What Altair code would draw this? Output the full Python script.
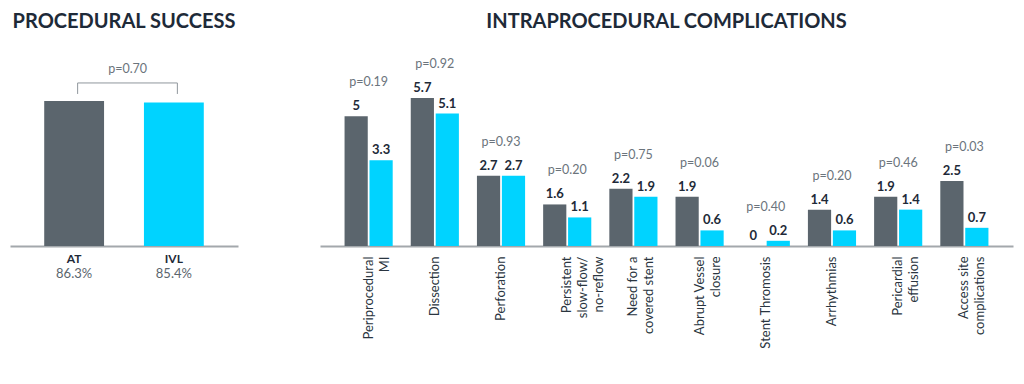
import altair as alt
import pandas as pd

# ---- data ----
groups = ["AT", "IVL"]
success_rates = [86.3, 85.4]
success_p = "p=0.70"

categories = [
    "Periprocedural|MI", "Dissection", "Perforation", "Persistent|slow-flow/|no-reflow",
    "Need for a|covered stent", "Abrupt Vessel|closure", "Stent Thromosis",
    "Arrhythmias", "Pericardial|effusion", "Access site|complications",
]
at_rates = [5, 5.7, 2.7, 1.6, 2.2, 1.9, 0, 1.4, 1.9, 2.5]
ivl_rates = [3.3, 5.1, 2.7, 1.1, 1.9, 0.6, 0.2, 0.6, 1.4, 0.7]
p_values = ["p=0.19", "p=0.92", "p=0.93", "p=0.20", "p=0.75",
            "p=0.06", "p=0.40", "p=0.20", "p=0.46", "p=0.03"]

# ---- styles ----
FONT = "Lato"
DARK = "#1e2a38"
BAR_COLORS = ["#5b656d", "#00d3ff"]
P_COLOR = "#6b747c"
AXIS_COLOR = "#a3a8ac"

color_scale = alt.Scale(domain=groups, range=BAR_COLORS)

# ---- left panel ----
sdf = pd.DataFrame({"group": groups, "value": success_rates})
smax = max(success_rates)

xl = alt.X("group:N", sort=groups,
           scale=alt.Scale(paddingInner=0.4, paddingOuter=0.343),
           axis=alt.Axis(title=None, labelAngle=0, ticks=False, labelPadding=7,
                         labelFontWeight="bold", labelFontSize=12, labelColor=DARK,
                         labelFont=FONT, domainColor=AXIS_COLOR, domainWidth=2))
yl = alt.Y("value:Q", scale=alt.Scale(domain=[0, 119], nice=False), axis=None)

lbase = alt.Chart(sdf)
lfirst = lbase.transform_filter(alt.datum.group == groups[0])
lbars = lbase.mark_bar().encode(
    x=xl, y=yl,
    color=alt.Color("group:N", scale=color_scale, legend=None))
lpct = lbase.transform_calculate(
    lab="format(datum.value, '.1f') + '%'"
).mark_text(dy=28, baseline="middle", fontSize=13, font=FONT, color="#5b656d").encode(
    x=xl, y=alt.datum(0), text="lab:N")
bracket_h = lfirst.mark_rule(color="#8f969c", strokeWidth=1, xOffset=3.5, x2Offset=3.5,
                             yOffset=-18).encode(
    x=alt.datum("AT"), x2=alt.datum("IVL"), y=alt.datum(smax))
bracket_v = lbase.mark_rule(color="#8f969c", strokeWidth=1, xOffset=3.5,
                            yOffset=-18, y2Offset=-7).encode(
    x=xl, y=alt.datum(smax), y2=alt.datum(smax))
lp = lfirst.mark_text(dy=-32, dx=53.5, baseline="middle", fontSize=12.5, font=FONT,
                      color=P_COLOR).encode(
    x=alt.datum("AT"), y=alt.datum(smax), text=alt.value(success_p))

left = alt.layer(lbars, lpct, bracket_h, bracket_v, lp).properties(
    width=228, height=200,
    title=alt.TitleParams("PROCEDURAL SUCCESS", anchor="middle"))

# ---- right panel ----
rows = []
for i, c in enumerate(categories):
    for g, v in zip(groups, [at_rates[i], ivl_rates[i]]):
        rows.append({"cat": c, "group": g, "value": v})
cdf = pd.DataFrame(rows)
pdf = pd.DataFrame({"cat": categories,
                    "top": [max(a, b) for a, b in zip(at_rates, ivl_rates)],
                    "p": p_values})

xr = alt.X("cat:N", sort=categories,
           scale=alt.Scale(paddingInner=0.2727, paddingOuter=0.371),
           axis=alt.Axis(title=None, labelAngle=-90, labelAlign="right",
                         labelBaseline="middle", ticks=False, labelPadding=10,
                         labelExpr="split(datum.label, '|')", labelLineHeight=16,
                         labelFontSize=13, labelColor="#2a3540", labelFont=FONT,
                         domainColor=AXIS_COLOR, domainWidth=2))
yr = alt.Y("value:Q", scale=alt.Scale(domain=[0, 7.7], nice=False), axis=None)
xo = alt.XOffset("group:N", sort=groups, scale=alt.Scale(paddingInner=0.07))

rbars = alt.Chart(cdf).mark_bar().encode(
    x=xr, xOffset=xo, y=yr,
    color=alt.Color("group:N", scale=color_scale, legend=None))
rvals = alt.Chart(cdf).mark_text(dy=-3, baseline="bottom", fontSize=13, font=FONT,
                                 fontWeight="bold", color=DARK).encode(
    x=xr, xOffset=xo, y=yr, text="value:Q")
rp = alt.Chart(pdf).mark_text(dy=-34, baseline="middle", fontSize=12.5, font=FONT,
                              color=P_COLOR).encode(
    x=xr, y=alt.Y("top:Q", scale=alt.Scale(domain=[0, 7.7], nice=False), axis=None),
    text="p:N")

right = alt.layer(rbars, rvals, rp).properties(
    width=693, height=200,
    title=alt.TitleParams("INTRAPROCEDURAL COMPLICATIONS", anchor="middle"))

chart = alt.hconcat(left, right, spacing=82).properties(
    padding={"left": 2, "top": 4, "right": 2, "bottom": 2}
).configure_view(stroke=None).configure_axis(grid=False).configure_title(
    font=FONT, fontSize=20, fontWeight="bold", color=DARK, offset=14
)

chart.save("out.html", embed_options={"renderer": "svg", "actions": False})
